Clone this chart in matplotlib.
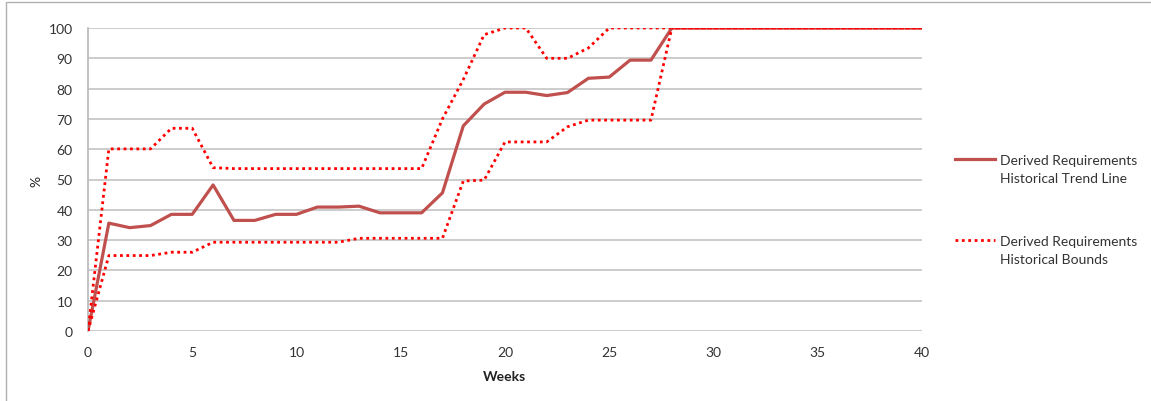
import matplotlib
matplotlib.use("Agg")
import matplotlib.pyplot as plt
from matplotlib.patches import Rectangle
from matplotlib.lines import Line2D

plt.rcParams['font.family'] = ['Lato', 'DejaVu Sans']

weeks = list(range(0, 41))
trend = [0, 35.6, 34.1, 34.8, 38.5, 38.5, 48.2, 36.5, 36.5, 38.5,
         38.5, 40.9, 40.9, 41.2, 39.0, 39.0, 39.0, 45.6, 67.7, 74.9,
         78.8, 78.8, 77.7, 78.7, 83.4, 83.8, 89.4, 89.4] + [100] * 13
upper = [0, 60.1, 60.1, 60.1, 66.9, 66.9, 53.9, 53.6, 53.6, 53.6,
         53.6, 53.6, 53.6, 53.6, 53.6, 53.6, 53.6, 70.0, 83.0, 97.8,
         100, 100, 90.0, 90.0, 93.4] + [100] * 16
lower = [0, 24.9, 24.9, 24.9, 26.0, 26.0, 29.3, 29.3, 29.3, 29.3,
         29.3, 29.3, 29.3, 30.6, 30.6, 30.6, 30.6, 30.6, 49.5, 49.8,
         62.4, 62.4, 62.4, 67.4, 69.6, 69.6, 69.6, 69.6] + [100] * 13

x_ticks = [0, 5, 10, 15, 20, 25, 30, 35, 40]
y_ticks = [0, 10, 20, 30, 40, 50, 60, 70, 80, 90, 100]
trend_label = "Derived Requirements\nHistorical Trend Line"
bounds_label = "Derived Requirements\nHistorical Bounds"

W, H = 1151, 402
fig = plt.figure(figsize=(W / 100, H / 100), dpi=100)
fig.patch.set_facecolor('white')


def fx(px):
    return px / W


def fy(py):
    return (H - py) / H


# outer chart frame
fig.add_artist(Rectangle((fx(6), -0.05), 1.2, fy(3) + 0.05,
                         transform=fig.transFigure, fill=False,
                         edgecolor='#b0b0b0', linewidth=1.0))

ax = fig.add_axes([fx(88), fy(332), (922 - 88) / W, (332 - 29) / H])
ax.set_xlim(0, 40)
ax.set_ylim(0, 100)

for yv in y_ticks:
    ax.axhline(yv, color='#c4c4c4', linewidth=1.2, zorder=1)

trend_style = dict(color='#C0504D', linewidth=2.3, solid_joinstyle='round')
bound_style = dict(color='#FF0000', linewidth=2.0, linestyle=(0, (1, 1.3)))

ax.plot(weeks, trend, zorder=3, **trend_style)
ax.plot(weeks, upper, zorder=4, **bound_style)
ax.plot(weeks, lower, zorder=4, **bound_style)

for side in ['top', 'right', 'bottom']:
    ax.spines[side].set_visible(False)
ax.spines['left'].set_color('#b8b8b8')
ax.spines['left'].set_linewidth(1.2)

ax.set_xticks(x_ticks)
ax.set_yticks(y_ticks)
ax.tick_params(axis='both', length=0, labelsize=10, colors='#333333')
ax.tick_params(axis='y', pad=11)
ax.tick_params(axis='x', pad=11)

ax.set_xlabel('Weeks', fontsize=10, fontweight='bold', color='#222222')
ax.xaxis.set_label_coords((505 - 88) / (922 - 88), -(371 - 332) / (332 - 29))
ax.set_ylabel('%', fontsize=10, color='#222222')
ax.yaxis.set_label_coords(-(88 - 42) / (922 - 88), (332 - 181) / (332 - 29))

# legend: sample line aligned with the first text line of each entry
for sample_y, style, label in [(160, trend_style, trend_label),
                               (241, bound_style, bounds_label)]:
    fig.add_artist(Line2D([fx(955), fx(995)], [fy(sample_y), fy(sample_y)],
                          transform=fig.transFigure, **style))
    fig.text(fx(1000), fy(sample_y - 5), label, fontsize=10, color='#333333',
             ha='left', va='top', linespacing=1.6)

fig.savefig('out.png', dpi=100, facecolor='white')
